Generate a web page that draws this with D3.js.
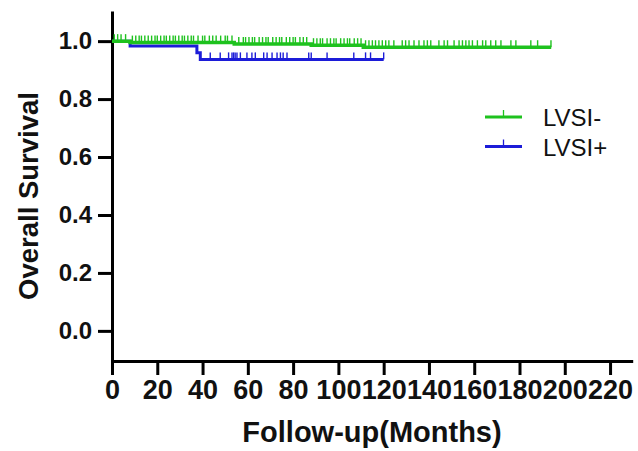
<!DOCTYPE html>
<html>
<head>
<meta charset="utf-8">
<script src="https://cdn.jsdelivr.net/npm/d3@7"></script>
<style>
  body { margin: 0; background: white; }
  text { font-family: Arial, "Liberation Sans", sans-serif; }
</style>
</head>
<body>
<div id="graf"></div>
<script>
// LVSI- group: step times and survival
var zelenaVrijeme = [0, 8, 54, 88, 111, 194];
var zelenaPrezivljenje = [1.0, 0.995, 0.99, 0.986, 0.979, 0.979];
var zelenaCenzura = [1, 2.5, 4, 6, 9, 10.5, 12, 13, 14.5, 16, 17.5, 19, 20, 21.5, 23, 24, 25.5, 27, 28, 29.5,
    31, 32, 33.5, 35, 36, 38, 40, 41, 43, 44.5, 46, 48, 50, 51, 53, 56, 58, 59, 60.5, 62, 63, 65, 66.5,
    68, 69, 71, 72.5, 74, 75, 77, 78.5, 80, 81, 83, 84.5, 86, 89, 90.5, 92, 93, 95, 96.5, 98, 99, 101,
    102.5, 104, 105, 107, 108.5, 110, 112, 113.5, 115, 116.4, 117.9, 119.4, 120.9, 122.3, 124.5, 128.2,
    129.7, 131.2, 133.4, 135.6, 137.8, 139.3, 140.8, 144.4, 146.7, 148.2, 151.1, 153.3, 154.8, 156.3,
    157.7, 159.2, 161.4, 163.7, 165.1, 167.3, 169.5, 171.8, 176.2, 178.4, 185, 188, 193.9];

// LVSI+ group
var plavaVrijeme = [0, 8, 37.5, 39, 120];
var plavaPrezivljenje = [1.0, 0.983, 0.96, 0.937, 0.937];
var plavaCenzura = [43.4, 47.8, 51.5, 53, 53.7, 54.4, 55.2, 56.7, 59.6, 61.8, 63.3, 67, 68.5, 70.7,
    72.9, 74.4, 75.6, 77.3, 86.9, 88, 95, 106.8, 112, 114.2, 120];

var xTicks = [0, 20, 40, 60, 80, 100, 120, 140, 160, 180, 200, 220];
var yTicks = [0.0, 0.2, 0.4, 0.6, 0.8, 1.0];
var legendaNazivi = ["LVSI-", "LVSI+"];
var boje = ["#1ec21e", "#1c1cd8"];

var width = 638;
var height = 451;

var svg = d3.select("#graf")
    .append("svg")
    .attr("width", width)
    .attr("height", height);

var x = d3.scaleLinear()
    .domain([0, 230])
    .range([112, 632.7]);

var y = d3.scaleLinear()
    .domain([-0.104, 1.104])
    .range([361, 11]);

// y os
var yOs = svg.append("g")
    .attr("transform", "translate(" + x(0) + ",0)")
    .call(d3.axisLeft(y).tickValues(yTicks).tickFormat(d3.format(".1f")).tickSize(14).tickSizeOuter(0).tickPadding(6));
yOs.select(".domain").attr("stroke-width", 3).attr("stroke", "black");
yOs.selectAll(".tick line").attr("stroke-width", 3).attr("stroke", "black");
yOs.selectAll("text")
    .style("font-size", "24px")
    .style("font-weight", "bold")
    .attr("fill", "#111");

// x os
var xOs = svg.append("g")
    .attr("transform", "translate(0," + y(-0.104) + ")")
    .call(d3.axisBottom(x).tickValues(xTicks).tickSize(14).tickSizeOuter(0).tickPadding(5));
xOs.select(".domain").attr("stroke-width", 3).attr("stroke", "black");
xOs.selectAll(".tick line").attr("stroke-width", 3).attr("stroke", "black");
xOs.selectAll("text")
    .style("font-size", "27px")
    .style("font-weight", "bold")
    .attr("fill", "#111");

// krivulje
var linija = d3.line()
    .x(d => x(d[0]))
    .y(d => y(d[1]))
    .curve(d3.curveStepAfter);

function nacrtaj(vrijeme, prez, cenzura, boja, debljina) {
    var tocke = vrijeme.map((t, i) => [t, prez[i]]);
    svg.append("path")
        .datum(tocke)
        .attr("d", linija)
        .attr("fill", "none")
        .attr("stroke", boja)
        .attr("stroke-width", debljina);

    var korak = d3.scaleThreshold()
        .domain(vrijeme.slice(1))
        .range(prez);

    svg.append("g")
        .selectAll("line")
        .data(cenzura)
        .enter()
        .append("line")
        .attr("x1", d => x(d))
        .attr("x2", d => x(d))
        .attr("y1", d => y(korak(d)) - 7)
        .attr("y2", d => y(korak(d)))
        .attr("stroke", boja)
        .attr("stroke-width", 1.4);
}

nacrtaj(plavaVrijeme, plavaPrezivljenje, plavaCenzura, boje[1], 3);
nacrtaj(zelenaVrijeme, zelenaPrezivljenje, zelenaCenzura, boje[0], 3.5);

// legenda
var legenda = svg.append("g")
    .selectAll("g")
    .data(legendaNazivi)
    .enter()
    .append("g")
    .attr("transform", (d, i) => "translate(485," + (117 + i * 29.5) + ")");

legenda.append("line")
    .attr("x1", 0).attr("x2", 37)
    .attr("stroke", (d, i) => boje[i])
    .attr("stroke-width", 3);
legenda.append("line")
    .attr("x1", 18.5).attr("x2", 18.5)
    .attr("y1", -7).attr("y2", 0)
    .attr("stroke", (d, i) => boje[i])
    .attr("stroke-width", 1.3);
legenda.append("text")
    .attr("x", 58)
    .attr("y", 9)
    .style("font-size", "24px")
    .attr("fill", "#111")
    .text(d => d);

// naslovi osi
svg.append("text")
    .attr("transform", "translate(38,196) rotate(-90)")
    .style("text-anchor", "middle")
    .style("font-size", "27.5px")
    .style("font-weight", "bold")
    .attr("fill", "#111")
    .text("Overall Survival");

svg.append("text")
    .attr("x", 372)
    .attr("y", 442)
    .style("text-anchor", "middle")
    .style("font-size", "29px")
    .style("font-weight", "bold")
    .attr("fill", "#111")
    .text("Follow-up(Months)");
</script>
</body>
</html>
